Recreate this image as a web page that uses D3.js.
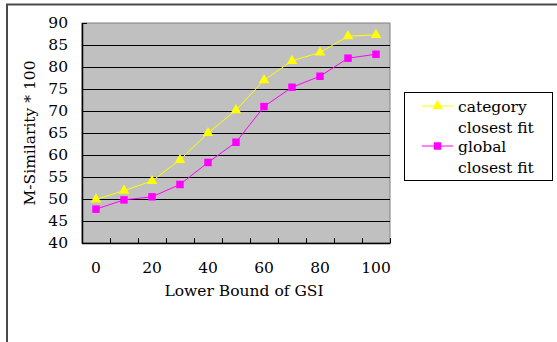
<!DOCTYPE html>
<html>
<head>
<meta charset="utf-8">
<script src="https://cdn.jsdelivr.net/npm/d3@7"></script>
<style>
  html, body { margin: 0; padding: 0; background: #fff; }
  svg { display: block; }
  text { font-family: "DejaVu Serif", "Liberation Serif", serif; fill: #000; }
</style>
</head>
<body>
<svg id="chart" width="557" height="342"></svg>
<script>
// Lower bound of GSI (x categories)
const gsiBounds = [0, 10, 20, 30, 40, 50, 60, 70, 80, 90, 100];
const xTickLabels = [0, 20, 40, 60, 80, 100];
const yTicks = [40, 45, 50, 55, 60, 65, 70, 75, 80, 85, 90];

// M-Similarity * 100 for each fitting strategy
const categoryClosestFit = [49.9, 51.9, 54.1, 58.9, 65.0, 70.2, 77.0, 81.4, 83.3, 87.0, 87.3];
const globalClosestFit   = [47.7, 49.8, 50.5, 53.3, 58.3, 62.9, 71.0, 75.4, 77.9, 82.0, 82.9];

const seriesNames = ["category closest fit", "global closest fit"];

const svg = d3.select("#chart");
const plot = { left: 82, top: 23, right: 390, bottom: 243 };
const fontSize = 15.5;

// outer frame (top and left edges)
svg.append("path")
  .attr("d", "M7,342 L7,4.5 L557,4.5")
  .attr("fill", "none").attr("stroke", "#4a4a4a").attr("stroke-width", 2);

const x = d3.scaleBand().domain(gsiBounds).range([plot.left, plot.right]).padding(0);
const y = d3.scaleLinear().domain([40, 90]).range([plot.bottom, plot.top]);

// plot background
svg.append("rect")
  .attr("x", plot.left).attr("y", plot.top)
  .attr("width", plot.right - plot.left).attr("height", plot.bottom - plot.top)
  .attr("fill", "#c0c0c0").attr("stroke", "#808080").attr("stroke-width", 1);

// horizontal gridlines
svg.append("g")
  .selectAll("line")
  .data(yTicks.filter(v => v > 40 && v < 90))
  .join("line")
  .attr("x1", plot.left).attr("x2", plot.right)
  .attr("y1", d => Math.round(y(d)) + 0.5).attr("y2", d => Math.round(y(d)) + 0.5)
  .attr("stroke", "#000").attr("stroke-width", 1);

// y axis: line, inward ticks, labels
const yAxis = svg.append("g").attr("transform", `translate(${plot.left},0)`)
  .call(d3.axisRight(y).tickValues(yTicks).tickSize(5).tickFormat(""));
yAxis.select(".domain").remove();
yAxis.selectAll("line").attr("stroke", "#000");
svg.append("line")
  .attr("x1", plot.left + 0.5).attr("x2", plot.left + 0.5)
  .attr("y1", plot.top).attr("y2", plot.bottom + 0.5)
  .attr("stroke", "#000").attr("stroke-width", 1.5);
svg.append("g")
  .selectAll("text")
  .data(yTicks)
  .join("text")
  .attr("x", 68).attr("y", d => y(d))
  .attr("text-anchor", "end").attr("dominant-baseline", "central")
  .attr("font-size", fontSize)
  .text(d => d);

// x axis: line, inward ticks at category boundaries, labels
const boundaries = gsiBounds.map(d => x(d)).concat([plot.right]).slice(1);
svg.append("line")
  .attr("x1", plot.left).attr("x2", plot.right + 0.5)
  .attr("y1", plot.bottom + 0.5).attr("y2", plot.bottom + 0.5)
  .attr("stroke", "#000").attr("stroke-width", 1.5);
svg.append("g")
  .selectAll("line")
  .data(boundaries)
  .join("line")
  .attr("x1", d => Math.round(d) + 0.5).attr("x2", d => Math.round(d) + 0.5)
  .attr("y1", plot.bottom).attr("y2", plot.bottom - 5)
  .attr("stroke", "#000").attr("stroke-width", 1);
svg.append("g")
  .selectAll("text")
  .data(xTickLabels)
  .join("text")
  .attr("x", d => x(d) + x.bandwidth() / 2).attr("y", 268)
  .attr("text-anchor", "middle").attr("dominant-baseline", "central")
  .attr("font-size", fontSize)
  .text(d => d);

// axis titles
svg.append("text")
  .attr("x", 244).attr("y", 291)
  .attr("text-anchor", "middle").attr("dominant-baseline", "central")
  .attr("font-size", fontSize)
  .text("Lower Bound of GSI");
svg.append("text")
  .attr("transform", "translate(30,133) rotate(-90)")
  .attr("text-anchor", "middle").attr("dominant-baseline", "central")
  .attr("font-size", fontSize)
  .text("M-Similarity * 100");

// series
const cx = d => x(d) + x.bandwidth() / 2;
const line = d3.line().x((d, i) => cx(gsiBounds[i])).y(d => y(d));
const triangle = d3.symbol().type(d3.symbolTriangle).size(48);
const square = d3.symbol().type(d3.symbolSquare).size(56);

const series = [
  { name: seriesNames[0], values: categoryClosestFit, color: "#ffff00", symbol: triangle },
  { name: seriesNames[1], values: globalClosestFit, color: "#ff00ff", symbol: square }
];

series.forEach(s => {
  svg.append("path")
    .attr("d", line(s.values))
    .attr("fill", "none").attr("stroke", s.color).attr("stroke-width", 1);
  svg.append("g")
    .selectAll("path")
    .data(s.values)
    .join("path")
    .attr("transform", (d, i) => `translate(${cx(gsiBounds[i])},${y(d)})`)
    .attr("d", s.symbol())
    .attr("fill", s.color);
});

// legend
const legend = svg.append("g");
legend.append("rect")
  .attr("x", 404.5).attr("y", 92.5).attr("width", 148).attr("height", 88)
  .attr("fill", "#fff").attr("stroke", "#000").attr("stroke-width", 1);
const legendRows = [
  { s: series[0], lines: ["category", "closest fit"], y: 106 },
  { s: series[1], lines: ["global", "closest fit"], y: 146 }
];
legendRows.forEach(r => {
  legend.append("line")
    .attr("x1", 422).attr("x2", 453).attr("y1", r.y).attr("y2", r.y)
    .attr("stroke", r.s.color).attr("stroke-width", 1);
  legend.append("path")
    .attr("transform", `translate(437.5,${r.y})`)
    .attr("d", r.s.symbol())
    .attr("fill", r.s.color);
  r.lines.forEach((t, i) => {
    legend.append("text")
      .attr("x", 458).attr("y", r.y + 1 + i * 21)
      .attr("dominant-baseline", "central")
      .attr("font-size", fontSize)
      .text(t);
  });
});
</script>
</body>
</html>
